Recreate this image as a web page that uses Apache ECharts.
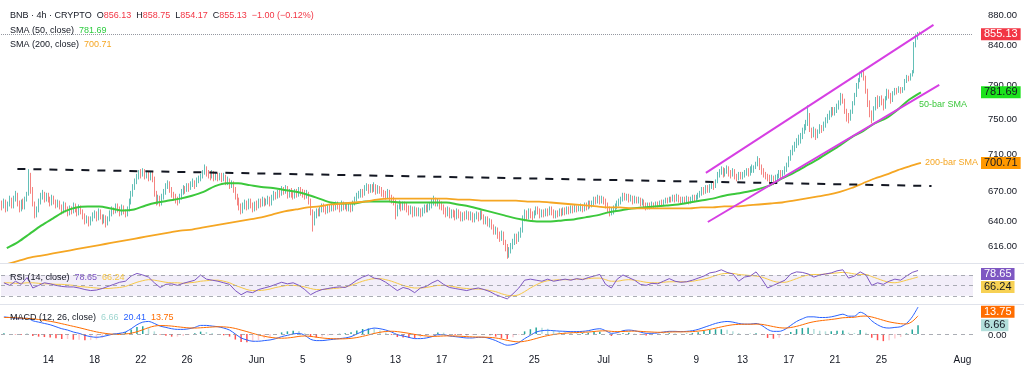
<!DOCTYPE html>
<html>
<head>
<meta charset="utf-8">
<title>BNB 4h</title>
<script src="https://cdn.jsdelivr.net/npm/echarts@6.0.0/dist/echarts.min.js"></script>
<style>
html, body { margin: 0; padding: 0; background: #fff; }
#chart { width: 1024px; height: 376px; }
</style>
</head>
<body>
<div id="chart"></div>
<script>
var FONT = 'Liberation Sans, Arial, sans-serif';

// first 4h candle: 2025-05-10 00:00, open of the very first bar
var firstOpen = 658;

// 4h closes, one line per day (May 10 .. Jul 28)
var closes = [
  655,660,652,658,662,656, 663,668,658,652,660,655, 662,668,688,672,658,648, 652,660,665,668,662,666,
  662,658,664,660,656,659, 655,650,657,652,648,653, 650,656,652,648,654,650, 645,640,643,638,642,646,
  648,643,650,645,640,644, 638,642,648,652,650,655, 652,648,654,650,647,652, 660,668,675,680,686,690,
  688,692,686,690,684,688, 684,668,660,664,658,665, 670,676,679,672,668,665, 662,660,665,670,674,672,
  676,674,678,680,677,682, 684,686,690,696,690,688, 686,690,684,688,685,687, 684,686,680,682,676,678,
  672,665,660,655,650,656, 658,654,660,656,652,657,
  // June
  655,660,657,662,658,660, 662,658,664,668,665,669, 668,672,670,674,666,670, 668,665,670,668,672,669,
  668,666,668,660,650,642, 645,650,648,652,655,652, 650,654,652,656,653,657, 655,652,658,654,656,653,
  655,652,658,662,666,668, 670,668,674,676,672,675, 673,676,670,674,672,669, 668,665,670,664,662,660,
  648,654,658,654,657,655, 653,650,652,648,651,649, 650,648,651,654,652,655, 656,659,662,658,660,656,
  654,650,648,652,646,649, 648,645,650,647,643,646, 645,648,644,647,642,645, 646,643,648,645,640,642,
  638,640,635,630,632,627, 624,628,620,615,608,612, 616,620,625,622,626,630, 642,648,644,650,647,645,
  648,652,650,646,649,647, 650,648,652,649,646,648, 647,650,648,651,649,652, 650,653,651,654,652,653,
  655,652,656,654,658,656, 658,662,660,664,660,663,
  // July
  660,656,652,648,650,653, 655,658,660,662,666,664, 665,662,664,660,663,661, 662,658,660,656,654,656,
  655,657,656,658,657,659, 658,660,662,661,663,662, 664,662,665,663,660,662, 661,663,660,662,664,663,
  664,666,668,672,670,674, 672,675,678,676,680,688, 690,694,688,692,695,690, 688,692,686,684,688,686,
  688,690,692,689,694,696, 696,699,704,696,692,688, 686,684,682,685,680,684, 686,690,686,690,694,698,
  705,712,716,720,724,728, 730,736,740,745,755,738, 732,736,730,734,740,738, 744,748,752,756,760,758,
  760,764,768,778,772,760, 752,750,758,768,778,790, 796,804,806,800,784,770, 758,750,762,772,766,774,
  770,764,774,782,778,772, 780,784,782,786,783,785, 796,800,798,803,806,842, 852,856.13,855.13
];
var highs = [
  661,663,662,660,666,664, 666,671,669,661,662,663, 665,670,694,690,675,660, 655,663,669,672,670,669,
  669,665,667,666,662,662, 661,657,660,659,655,656, 655,659,658,654,657,656, 652,648,646,645,645,649,
  651,650,653,652,647,647, 646,645,651,655,654,658, 658,655,657,656,652,655, 663,671,678,684,689,693,
  694,695,694,692,692,691, 692,686,671,667,666,668, 673,679,682,681,675,670, 668,665,668,673,677,676,
  679,679,681,684,682,685, 687,689,693,699,697,693, 692,693,692,691,690,690, 690,690,688,686,684,682,
  681,675,668,664,658,659, 662,661,663,663,659,660,
  661,663,663,665,664,663, 666,665,667,671,670,672, 673,676,675,677,676,673, 674,671,673,673,675,675,
  673,672,672,670,663,652, 650,653,653,655,658,658, 656,657,657,659,658,660, 660,658,661,660,659,659,
  658,658,661,665,669,671, 673,673,677,679,678,678, 678,680,678,677,676,675, 672,671,673,672,667,665,
  662,657,661,660,660,660, 659,656,656,655,655,654, 654,653,654,657,657,658, 659,663,666,664,663,662,
  660,657,654,655,654,652, 652,651,653,652,650,649, 650,651,650,650,649,648, 650,649,651,651,647,645,
  645,643,642,637,635,634, 630,631,630,622,618,615, 619,623,628,628,630,634, 646,652,651,653,653,650,
  651,655,655,653,652,652, 653,653,655,655,652,651, 651,653,653,654,654,655, 655,656,656,657,656,656,
  658,657,659,659,661,661, 661,665,665,667,666,666,
  665,663,659,655,654,656, 658,661,663,665,669,669, 668,668,667,666,666,665, 665,664,663,662,659,659,
  659,660,659,660,660,661, 662,662,664,664,665,665, 667,667,668,667,665,665, 665,666,665,665,667,667,
  667,669,671,675,675,677, 677,678,681,681,683,691, 694,697,696,695,698,697, 693,695,694,689,691,691,
  691,693,695,695,697,699, 698,702,708,706,699,695, 691,689,688,688,687,688, 689,693,693,693,697,701,
  708,715,720,724,728,732, 734,740,744,749,766,757, 740,741,739,738,744,743, 747,752,756,760,764,764,
  764,768,772,781,780,774, 762,757,761,771,781,793, 799,807,809,808,802,786, 772,760,765,776,778,777,
  778,774,777,786,785,781, 783,787,787,789,788,788, 798,803,802,805,809,845, 856,858.2,858.75
];
var lows = [
  651,653,649,650,655,653, 653,660,655,649,650,652, 652,660,666,668,655,643, 644,649,657,662,659,660,
  659,655,656,657,653,654, 652,647,648,649,645,646, 647,648,649,645,646,647, 642,637,638,635,636,640,
  643,640,641,642,637,638, 634,636,640,645,647,648, 649,645,646,647,644,645, 650,657,665,672,678,683,
  684,686,683,684,681,682, 680,665,656,657,655,656, 662,667,673,669,664,661, 658,656,658,662,667,668,
  670,670,672,675,673,675, 679,681,684,688,686,684, 682,684,681,682,681,682, 680,681,677,677,673,674,
  669,662,656,651,647,648, 652,651,652,653,649,650,
  651,653,654,655,655,656, 657,655,656,661,662,663, 664,666,667,668,663,664, 664,662,663,664,665,666,
  664,662,663,657,646,630, 636,643,645,645,649,649, 647,648,649,650,650,651, 652,649,650,651,652,650,
  650,649,650,656,660,663, 664,664,666,671,668,669, 669,670,667,668,668,665, 664,662,663,660,658,656,
  642,645,652,650,651,651, 649,646,647,644,645,645, 645,644,645,648,649,649, 651,653,656,655,655,652,
  651,647,644,645,643,643, 644,641,642,643,640,640, 641,642,641,641,639,639, 642,640,641,642,637,637,
  635,634,632,627,627,623, 620,621,617,611,604,605, 609,613,617,618,620,624, 629,640,641,642,643,641,
  643,646,647,643,644,644, 645,645,646,646,643,643, 644,645,645,646,646,647, 647,648,648,649,649,650,
  650,649,650,651,652,653, 654,656,657,658,657,658,
  657,653,649,645,646,647, 650,652,655,657,660,661, 661,659,660,657,658,658, 658,655,656,653,651,652,
  652,653,653,654,654,655, 655,656,658,658,659,659, 660,659,660,659,657,658, 658,659,657,658,660,660,
  660,662,664,666,667,668, 669,669,673,672,674,679, 685,688,685,686,689,686, 684,686,683,681,682,683,
  683,685,687,686,687,690, 690,694,697,693,688,685, 683,681,679,680,677,678, 681,684,683,684,688,691,
  696,703,709,713,717,720, 722,727,733,737,742,735, 728,729,726,728,733,734, 736,740,745,749,752,754,
  754,757,761,766,768,756, 747,745,748,756,766,776, 786,794,800,796,780,764, 752,745,748,760,762,764,
  766,760,762,772,774,768, 770,778,779,781,780,781, 784,793,795,796,801,805, 838,848,854.17
];

// moving averages, one reading per day (noon)
var sma50 = [
  614,620,628,636,643,650,654,655,655,653, 651,652,656,659,661,663,666,670,676,679,
  679,677,675,674,672,670,667,663,659,658, 658,660,660,660,659,659,659,659,659,657,
  655,652,649,646,643,641,640,640,641,642, 644,646,649,651,653,654,655,656,657,659,
  661,663,666,668,670,673,677,684,690,697, 704,712,720,729,736,745,751,761,773,781.69
];
var sma200 = [
  599,602,605,607,609,611,613,615,617,619, 621,623,625,627,629,631,632,634,636,638,
  640,642,644,647,650,652,654,655,657,658, 659,660,662,663,663,663,663,663,663,662,
  662,661,661,661,661,660,660,659,658,657, 656,655,654,654,653,653,653,653,653,653,
  654,654,655,655,656,657,658,659,661,663, 665,667,670,674,679,684,688,693,697,700.71
];

// RSI(14) and its MA, every 12h
var rsi = [
  55,50,58,52,65,45,50,55,53,50,48,47, 47,45,42,40,41,44,
  48,52,56,58, 68,73,70,66, 55,46,52,53, 50,54,57,60, 70,62,60,58, 55,52,40,32,
  38,36,42,45, 48,52,56,53, 55,50,42,32, 38,42,44,46, 47,46,52,60, 66,70,64,62,
  56,48,40,46,43,36,
  45,48,55,60, 52,46,44,42, 40,43,45,42, 38,32,28,24, 34,45,60,62, 60,58,62,58,
  60,62,60,63, 61,65,68,71, 52,45,62,70, 65,60,52,50, 54,53,58,63, 58,56,57,60,
  64,68,74,76, 80,75,72,58, 66,68,76,62, 45,50,55,60, 72,76,75,72, 66,70,72,74,
  78,80,64,68, 76,70,50,55, 52,58,62,60, 68,75,78.65
];
var rsiMa = [
  55,55,54,54,55,55,54,53,53,52,52,51, 50,48,47,46,45,44,
  44,45,46,48, 52,56,59,61, 60,58,56,55, 55,54,55,56, 58,59,60,60, 58,55,50,46,
  42,40,40,41, 43,46,48,50, 50,49,47,44, 42,42,43,44, 45,47,50,54, 58,61,63,63,
  61,58,54,50,47,45,
  45,46,48,50, 50,49,47,45, 44,43,43,42, 40,38,34,31, 30,32,38,45, 51,56,59,60,
  61,61,61,62, 62,63,64,64, 61,58,58,60, 61,60,58,56, 55,55,56,57, 57,57,57,58,
  60,62,65,69, 72,73,73,71, 70,69,68,66, 62,58,56,56, 59,63,67,70, 71,71,72,73,
  74,75,74,72, 71,71,67,63, 59,56,55,57, 60,63,66.24
];

// MACD(12, 26) line and signal, every 12h
var macdLine = [
  13,12.5,12,11.5,12,10,9,8,7,5.5, 4,3,1.5,0.5,-1,-2,-2.5,-2,-1,0,
  0.5,1.5,4,7,9,9.5,8,6,5,4, 3.5,3.5,4,5,6.5,6.5,6,5.5,4.5,3,
  0,-3,-4.5,-5.5,-5.5,-5,-4.5,-3.5,-2,-1, 0,0.5,-1,-4,-5,-5,-4.5,-4,-3.5,-3,
  -2,0,2,3.5,4.5,4,3,1.5,-0.5,-1.5, -2.5,-3.5,-3.5,-3,-2,-0.5,-0.5,-1.5,-2,-2.5,
  -3,-3,-2.5,-2.5,-3.5,-5,-7,-8.5,-8,-6.5, -3.5,-1,1.5,2.5,2.8,2.5,2.2,2,1.8,1.8,
  2,2.5,3.5,4,2.5,0.5,1,2.5,3,2.5, 1.5,0.5,0.5,0.8,1.5,2,2,1.8,2,2.5,
  3.5,5,6.5,8,9,9.5,9,8,7.5,7.5, 8,6.5,3.5,2,2,3.5,6.5,9.5,11.5,13,
  13,12.5,12.5,13,14,15,13.5,13.5,16.5,14.5, 10,7,5,4.5,5,5.5,8,13,20.41
];
var signalLine = [
  12.5,12.5,12.3,12,11.8,11.5,11,10.3,9.6,8.8, 7.8,6.8,5.8,4.8,3.7,2.6,1.6,0.8,0.2,-0.2,
  -0.3,0,0.6,1.7,3.2,4.8,6,6.4,6.3,6, 5.5,5,4.6,4.5,4.7,5,5.3,5.5,5.4,5,
  4.2,3,1.8,0.5,-0.7,-1.7,-2.5,-3,-3.2,-3, -2.5,-1.8,-1.5,-1.8,-2.4,-3,-3.4,-3.6,-3.7,-3.6,
  -3.3,-2.7,-1.8,-0.7,0.4,1.3,1.9,2.1,1.8,1.2, 0.5,-0.3,-1,-1.5,-1.8,-1.7,-1.5,-1.4,-1.5,-1.7,
  -2,-2.2,-2.3,-2.4,-2.6,-3,-3.8,-4.8,-5.6,-6, -5.5,-4.6,-3.4,-2.2,-1.2,-0.4,0.2,0.6,0.9,1.1,
  1.3,1.5,1.9,2.3,2.4,2,1.8,1.9,2.1,2.2, 2,1.7,1.5,1.3,1.3,1.5,1.6,1.6,1.7,1.8,
  2.2,2.7,3.5,4.4,5.4,6.3,7,7.3,7.4,7.4, 7.5,7.3,6.5,5.6,4.8,4.5,4.9,5.8,7,8.3,
  9.3,10,10.5,11,11.6,12.3,12.5,12.7,13.4,13.6, 12.9,11.7,10.4,9.2,8.4,7.8,7.6,9.5,13.75
];

// drawn lines (slot index, price)
var resistance = [[8, 694.2], [482, 676.1]];
var channelTop = [[365, 689.9], [483, 867.8]];
var channelBottom = [[366, 639.4], [486, 790.7]];

var priceTicks = [880, 840, 790, 750, 710, 670, 640, 616];
var dateTicks = {
  '05-14': '14', '05-18': '18', '05-22': '22', '05-26': '26', '06-01': 'Jun',
  '06-05': '5', '06-09': '9', '06-13': '13', '06-17': '17', '06-21': '21', '06-25': '25',
  '07-01': 'Jul', '07-05': '5', '07-09': '9', '07-13': '13', '07-17': '17', '07-21': '21',
  '07-25': '25', '08-01': 'Aug'
};

// ---- categories ----
var START = Date.UTC(2025, 4, 10);
var H4 = 4 * 3600 * 1000;
function pad(n) { return (n < 10 ? '0' : '') + n; }
function dayKey(t) { var d = new Date(t); return pad(d.getUTCMonth() + 1) + '-' + pad(d.getUTCDate()); }
var slots = [], days = [], halfDays = [];
for (var i = 0; i < 504; i++) {
  var t = START + i * H4, hr = new Date(t).getUTCHours();
  slots.push(hr === 0 ? dayKey(t) : dayKey(t) + ' ' + pad(hr) + ':00');
}
for (var d = 0; d < 84; d++) days.push(dayKey(START + d * 6 * H4));
for (var k = 0; k < 168; k++) halfDays.push(dayKey(START + k * 3 * H4) + (k % 2 ? ' 12h' : ' 0h'));

// ---- candles: open = previous close ----
var candleData = [];
var prev = firstOpen;
for (var j = 0; j < closes.length; j++) {
  var o = prev, c = closes[j];
  candleData.push([o, c, Math.min(lows[j], o, c), Math.max(highs[j], o, c)]);
  prev = c;
}
var last = candleData[candleData.length - 1];

var histData = macdLine.map(function (m, n) {
  var h = +(m - signalLine[n]).toFixed(2);
  var p = n > 0 ? macdLine[n - 1] - signalLine[n - 1] : h;
  var col = h >= 0 ? (h >= p ? '#26a69a' : '#b2dfdb') : (h < p ? '#ff5252' : '#ffcdd2');
  return { value: h, itemStyle: { color: col } };
});
var lastHist = histData[histData.length - 1].value;

function f2(v) { return v.toFixed(2); }
function rs(color) { return { color: color, fontSize: 9, fontFamily: FONT, fontWeight: 'normal', lineHeight: 11 }; }
var rich = {
  n: rs('#131722'), r: rs('#f23645'), g: rs('#2ecc40'), o: rs('#f5a623'), p: rs('#7e57c2'),
  y: rs('#f7c948'), t: rs('#9fd6d0'), b: rs('#2962ff'), m: rs('#ff6d00')
};
var chg = last[1] - last[0];
var headerText = '{n|BNB · 4h · CRYPTO}  {n|O}{r|' + f2(last[0]) + '}  {n|H}{r|' + f2(last[3]) +
  '}  {n|L}{r|' + f2(last[2]) + '}  {n|C}{r|' + f2(last[1]) + '}  {r|' +
  (chg < 0 ? '−' : '+') + f2(Math.abs(chg)) + ' (' + (chg < 0 ? '−' : '+') +
  f2(Math.abs(chg / last[0] * 100)) + '%)}';

function title(txt, top) {
  return { left: 10, top: top, padding: 0, text: txt,
    textStyle: { fontSize: 9, fontFamily: FONT, fontWeight: 'normal', rich: rich } };
}

var option = {
  animation: false,
  backgroundColor: '#ffffff',
  title: [
    title(headerText, 10),
    title('{n|SMA (50, close)}  {g|' + f2(sma50[sma50.length - 1]) + '}', 25),
    title('{n|SMA (200, close)}  {o|' + f2(sma200[sma200.length - 1]) + '}', 39),
    title('{n|RSI (14, close)}  {p|' + f2(rsi[rsi.length - 1]) + '}  {y|' + f2(rsiMa[rsiMa.length - 1]) + '}', 272),
    title('{n|MACD (12, 26, close)}  {t|' + f2(lastHist) + '}  {b|' + f2(macdLine[macdLine.length - 1]) +
      '}  {m|' + f2(signalLine[signalLine.length - 1]) + '}', 312)
  ],
  grid: [
    { left: 1, right: 51, top: 2, height: 260 },
    { left: 1, right: 51, top: 264, height: 40 },
    { left: 1, right: 51, top: 305, height: 42 }
  ],
  xAxis: [
    { type: 'category', gridIndex: 0, data: slots, show: false },
    { type: 'category', gridIndex: 0, data: days, show: false },
    { type: 'category', gridIndex: 1, data: halfDays, show: false },
    { type: 'category', gridIndex: 2, data: halfDays, show: false },
    {
      type: 'category', gridIndex: 2, data: slots, position: 'bottom',
      axisLine: { show: false }, axisTick: { show: false }, splitLine: { show: false },
      axisLabel: {
        interval: function (idx, val) { return dateTicks.hasOwnProperty(val); },
        formatter: function (val) { return dateTicks[val] || ''; },
        color: '#131722', fontSize: 10, fontFamily: FONT, margin: 8
      }
    }
  ],
  yAxis: [
    { type: 'log', logBase: 10, gridIndex: 0, min: 601, max: 899, show: false },
    { type: 'value', gridIndex: 1, min: 14.2, max: 91.15, show: false },
    { type: 'value', gridIndex: 2, min: -9.85, max: 21.97, show: false }
  ],
  series: [
    {
      name: 'BNB', type: 'candlestick', xAxisIndex: 0, yAxisIndex: 0,
      data: candleData, barWidth: '55%',
      itemStyle: { color: '#26a69a', color0: '#ef5350', borderColor: '#26a69a', borderColor0: '#ef5350', borderWidth: 0.8, opacity: 0.9 },
      markLine: {
        silent: true, symbol: ['none', 'none'], label: { show: false },
        data: [
          { yAxis: last[1], lineStyle: { color: '#9598a1', type: 'dotted', width: 1 } },
          [{ coord: resistance[0], lineStyle: { color: '#131722', type: [8, 8], width: 2 } }, { coord: resistance[1] }],
          [{ coord: channelTop[0], lineStyle: { color: '#d63fe3', type: 'solid', width: 2 } }, { coord: channelTop[1] }],
          [{ coord: channelBottom[0], lineStyle: { color: '#d63fe3', type: 'solid', width: 2 } }, { coord: channelBottom[1] }]
        ]
      }
    },
    {
      name: 'SMA 50', type: 'line', xAxisIndex: 1, yAxisIndex: 0, data: sma50,
      symbol: 'none', smooth: 0.3, lineStyle: { color: '#3cc83c', width: 2 }, z: 3
    },
    {
      name: 'SMA 200', type: 'line', xAxisIndex: 1, yAxisIndex: 0, data: sma200,
      symbol: 'none', smooth: 0.3, lineStyle: { color: '#f5a623', width: 1.8 }, z: 3
    },
    {
      name: 'RSI', type: 'line', xAxisIndex: 2, yAxisIndex: 1, data: rsi,
      symbol: 'none', lineStyle: { color: '#7e57c2', width: 1 }, z: 3,
      markArea: { silent: true, itemStyle: { color: 'rgba(126,87,194,0.1)' }, data: [[{ yAxis: 30 }, { yAxis: 70 }]] },
      markLine: {
        silent: true, symbol: ['none', 'none'], label: { show: false },
        lineStyle: { color: '#9598a1', type: [4, 4], width: 1, opacity: 0.8 },
        data: [{ yAxis: 70 }, { yAxis: 50 }, { yAxis: 30 }]
      }
    },
    {
      name: 'RSI MA', type: 'line', xAxisIndex: 2, yAxisIndex: 1, data: rsiMa,
      symbol: 'none', smooth: 0.3, lineStyle: { color: '#f7c948', width: 1 }, z: 2
    },
    {
      name: 'Histogram', type: 'bar', xAxisIndex: 3, yAxisIndex: 2, data: histData, barWidth: 1.5,
      markLine: {
        silent: true, symbol: ['none', 'none'], label: { show: false },
        lineStyle: { color: '#9598a1', type: [4, 4], width: 1, opacity: 0.8 },
        data: [{ yAxis: 0 }]
      }
    },
    {
      name: 'MACD', type: 'line', xAxisIndex: 3, yAxisIndex: 2, data: macdLine,
      symbol: 'none', smooth: 0.3, lineStyle: { color: '#2962ff', width: 1 }, z: 3
    },
    {
      name: 'Signal', type: 'line', xAxisIndex: 3, yAxisIndex: 2, data: signalLine,
      symbol: 'none', smooth: 0.3, lineStyle: { color: '#ff6d00', width: 1 }, z: 3
    }
  ]
};

var chart = echarts.init(document.getElementById('chart'));
chart.setOption(option);

// ---- right-hand scale labels and value tags ----
var g = [];
function yOf(axis, v) { return chart.convertToPixel({ yAxisIndex: axis }, v); }
function sep(y) {
  g.push({ type: 'line', silent: true, shape: { x1: 0, y1: y, x2: 1024, y2: y }, style: { stroke: '#e0e3eb', lineWidth: 1 } });
}
sep(263.5);
sep(304.5);
priceTicks.forEach(function (v) {
  g.push({ type: 'text', x: 988, y: yOf(0, v), z: 5,
    style: { text: f2(v), fill: '#131722', fontSize: 9.5, fontFamily: FONT, verticalAlign: 'middle' } });
});
g.push({ type: 'text', x: 988, y: yOf(2, 0) + 1, z: 5,
  style: { text: '0.00', fill: '#131722', fontSize: 9.5, fontFamily: FONT, verticalAlign: 'middle' } });
function tag(axis, v, bg, fg, dy) {
  g.push({ type: 'text', x: 981, y: yOf(axis, v) + dy, z: 10,
    style: { text: f2(v), fill: fg, backgroundColor: bg, padding: [1, 3, 0, 3], lineHeight: 11,
      fontSize: 11, fontFamily: FONT, verticalAlign: 'middle' } });
}
tag(0, last[1], '#f23645', '#ffffff', 0);
tag(0, sma50[sma50.length - 1], '#1de21d', '#131722', 0);
tag(0, sma200[sma200.length - 1], '#ff9800', '#131722', 0);
tag(1, rsi[rsi.length - 1], '#7e57c2', '#ffffff', 3.5);
tag(1, rsiMa[rsiMa.length - 1], '#f7d154', '#131722', 10);
tag(2, signalLine[signalLine.length - 1], '#ff6d00', '#ffffff', -4);
tag(2, lastHist, '#b2dfdb', '#131722', 0);

// annotations next to the moving averages
var p50 = chart.convertToPixel({ seriesIndex: 1 }, [sma50.length - 1, sma50[sma50.length - 1]]);
var p200 = chart.convertToPixel({ seriesIndex: 2 }, [sma200.length - 1, sma200[sma200.length - 1]]);
g.push({ type: 'text', x: p50[0] - 2, y: p50[1] + 12, z: 6,
  style: { text: '50-bar SMA', fill: '#3cc83c', fontSize: 9, fontFamily: FONT, verticalAlign: 'middle' } });
g.push({ type: 'text', x: p200[0] + 4, y: p200[1], z: 6,
  style: { text: '200-bar SMA', fill: '#f5a623', fontSize: 9, fontFamily: FONT, verticalAlign: 'middle' } });

chart.setOption({ graphic: g });
</script>
</body>
</html>
